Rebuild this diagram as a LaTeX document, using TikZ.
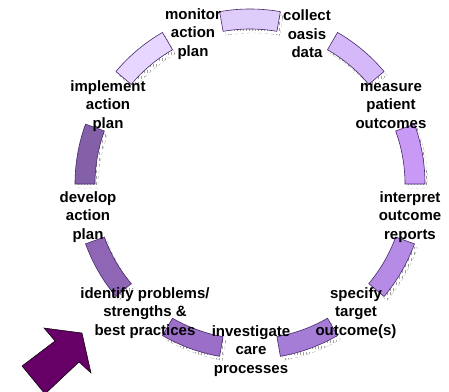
\documentclass[tikz,border=0pt]{standalone}
\usepackage{fontspec}
\setmainfont{Liberation Sans}
\usepackage{xcolor}
\usetikzlibrary{patterns}
\definecolor{segedge}{RGB}{70, 40, 105}
\definecolor{startpurple}{RGB}{102, 0, 102}
\definecolor{segcollect}{RGB}{222, 204, 250}
\definecolor{segmeasure}{RGB}{212, 184, 247}
\definecolor{seginterpret}{RGB}{200, 154, 245}
\definecolor{segspecify}{RGB}{182, 139, 230}
\definecolor{seginvestigate}{RGB}{166, 125, 214}
\definecolor{segidentify}{RGB}{155, 110, 200}
\definecolor{segdevelop}{RGB}{143, 102, 181}
\definecolor{segimplement}{RGB}{132, 96, 168}
\definecolor{segmonitor}{RGB}{231, 214, 255}

\begin{document}
\begin{tikzpicture}[x=1pt, y=1pt,
    cyclelabel/.style={font=\fontsize{15}{18.5}\selectfont\bfseries, align=center, inner sep=0pt},
    segshadow/.style={pattern=vertical lines, pattern color=gray!75, draw=gray!60, dashed, line width=0.3pt},
    segbox/.style={draw=segedge, line width=0.6pt}]
        \useasboundingbox (-250,-207) rectangle (199,184);

        % Cycle segments with hatched shadows
        \foreach \ang/\col [evaluate=\ang as \sa using \ang-10, evaluate=\ang as \ea using \ang+10] in {90/segcollect, 50/segmeasure, 10/seginterpret, -30/segspecify, -70/seginvestigate, -110/segidentify, -150/segdevelop, 170/segimplement, 130/segmonitor} {
            \path[segshadow, shift={(3,-4)}] (\sa:155pt) arc[start angle=\sa, end angle=\ea, radius=155pt] -- (\ea:175pt) arc[start angle=\ea, end angle=\sa, radius=175pt] -- cycle;
            \path[segbox, fill=\col] (\sa:155pt) arc[start angle=\sa, end angle=\ea, radius=155pt] -- (\ea:175pt) arc[start angle=\ea, end angle=\sa, radius=175pt] -- cycle;
        }

        % Step labels
        \node[cyclelabel] (monitor) at (-57,150) {monitor\\action\\plan};
        \node[cyclelabel] (collect) at (57,150) {collect\\oasis\\data};
        \node[cyclelabel] (measure) at (141,78) {measure\\patient\\outcomes};
        \node[cyclelabel] (interpret) at (160,-33) {interpret\\outcome\\reports};
        \node[cyclelabel] (specify) at (106,-129) {specify\\target\\outcome(s)};
        \node[cyclelabel] (investigate) at (1,-167) {investigate\\care\\processes};
        \node[cyclelabel] (identify) at (-105,-129) {identify problems/\\strengths \&\\best practices};
        \node[cyclelabel] (develop) at (-162,-33) {develop\\action\\plan};
        \node[cyclelabel] (implement) at (-142,78) {implement\\action\\plan};

        % Start arrow
        \draw[fill=startpurple, draw=black, line width=0.5pt] (-228,-182) -- (-195,-157) -- (-206,-144) -- (-168,-149) -- (-159,-189) -- (-171,-178) -- (-205,-210) -- cycle;
    \end{tikzpicture}
\end{document}
